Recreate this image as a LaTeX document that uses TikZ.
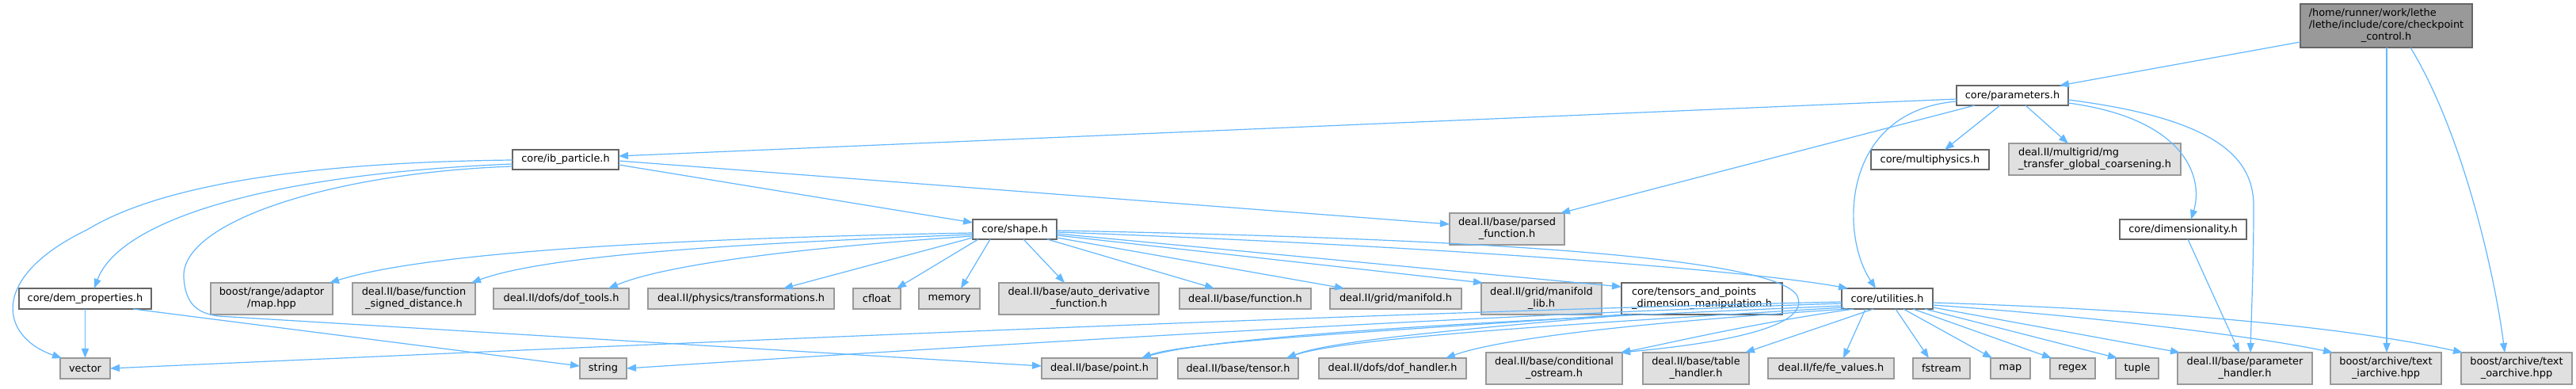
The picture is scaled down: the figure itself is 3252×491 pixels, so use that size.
\documentclass[tikz,border=0pt]{standalone}
\usepackage{fontspec}
\setmainfont{DejaVu Sans}
\usetikzlibrary{arrows.meta,calc}
\definecolor{edgec}{HTML}{63B8FF}
\definecolor{gfill}{HTML}{E0E0E0}
\definecolor{gdraw}{HTML}{999999}
\definecolor{wdraw}{HTML}{666666}
\definecolor{rfill}{HTML}{999999}
\newcommand\twol[2]{\begin{tabular}{@{}l@{}}#1\\\multicolumn{1}{@{}c@{}}{#2}\end{tabular}}
\newcommand\bx[7]{\node[#1, minimum width={(#5-#3)*0.5pt}, minimum height={(#6-#4)*0.5pt}] (#2) at ({(#3+#5)/2},{(#4+#6)/2}) {#7};}
\tikzset{
 nbase/.style={rectangle, inner sep=0pt, outer sep=0pt, line width=0.7pt, font=\fontsize{6.45}{7.5}\selectfont, text=black},
 wbox/.style={nbase, draw=wdraw, fill=white},
 gbox/.style={nbase, draw=gdraw, fill=gfill},
 rbox/.style={nbase, draw=wdraw, fill=rfill},
 inc/.style={draw=edgec, line width=0.6pt, -{Triangle[length=6pt,width=4.5pt]}},
}
\begin{document}
\begin{tikzpicture}[x=0.5pt,y=-0.5pt]
\useasboundingbox[fill=white] (0,0) rectangle (3252,491);
% nodes
\bx{rbox}{root}{2904}{5}{3121}{60}{\begin{tabular}{@{}l@{}}/home/runner/work/lethe\\/lethe/include/core/checkpoint\\\multicolumn{1}{@{}c@{}}{\_control.h}\end{tabular}}
\bx{wbox}{par}{2470}{108}{2611}{133}{core/parameters.h}
\bx{wbox}{mph}{2362}{189}{2511}{214}{core/multiphysics.h}
\bx{gbox}{mg}{2536}{181}{2753}{221}{\twol{deal.II/multigrid/mg}{\_transfer\_global\_coarsening.h}}
\bx{wbox}{ib}{647}{189}{781}{214}{core/ib\_particle.h}
\bx{wbox}{dem}{24}{364}{191}{390}{core/dem\_properties.h}
\bx{gbox}{vec}{76}{452}{139}{478}{vector}
\bx{gbox}{bmap}{266}{357}{420}{397}{\twol{boost/range/adaptor}{/map.hpp}}
\bx{gbox}{fsd}{445}{357}{600}{397}{\twol{deal.II/base/function}{\_signed\_distance.h}}
\bx{gbox}{doft}{623}{364}{794}{390}{deal.II/dofs/dof\_tools.h}
\bx{gbox}{trf}{818}{364}{1053}{390}{deal.II/physics/transformations.h}
\bx{gbox}{cfl}{1077}{364}{1137}{390}{cfloat}
\bx{gbox}{mem}{1160}{364}{1237}{390}{memory}
\bx{wbox}{shp}{1228}{277}{1334}{302}{core/shape.h}
\bx{gbox}{adf}{1261}{357}{1463}{397}{\twol{deal.II/base/auto\_derivative}{\_function.h}}
\bx{gbox}{fun}{1489}{364}{1655}{390}{deal.II/base/function.h}
\bx{gbox}{mfd}{1679}{364}{1845}{390}{deal.II/grid/manifold.h}
\bx{gbox}{mfl}{1870}{357}{2022}{397}{\twol{deal.II/grid/manifold}{\_lib.h}}
\bx{gbox}{pfn}{1830}{269}{1975}{309}{\twol{deal.II/base/parsed}{\_function.h}}
\bx{wbox}{tdm}{2047}{357}{2250}{397}{\twol{core/tensors\_and\_points}{\_dimension\_manipulation.h}}
\bx{wbox}{utl}{2325}{364}{2440}{390}{core/utilities.h}
\bx{wbox}{dim}{2676}{277}{2836}{302}{core/dimensionality.h}
\bx{gbox}{pnt}{1315}{452}{1461}{478}{deal.II/base/point.h}
\bx{gbox}{tsr}{1487}{452}{1639}{478}{deal.II/base/tensor.h}
\bx{gbox}{dofh}{1665}{452}{1851}{478}{deal.II/dofs/dof\_handler.h}
\bx{gbox}{cos}{1876}{445}{2048}{485}{\twol{deal.II/base/conditional}{\_ostream.h}}
\bx{gbox}{tbh}{2074}{445}{2208}{485}{\twol{deal.II/base/table}{\_handler.h}}
\bx{gbox}{fev}{2232}{452}{2391}{478}{deal.II/fe/fe\_values.h}
\bx{gbox}{fst}{2415}{452}{2487}{478}{fstream}
\bx{gbox}{map}{2513}{452}{2563}{478}{map}
\bx{gbox}{rgx}{2588}{452}{2645}{478}{regex}
\bx{gbox}{tpl}{2671}{452}{2725}{478}{tuple}
\bx{gbox}{prh}{2749}{445}{2919}{485}{\twol{deal.II/base/parameter}{\_handler.h}}
\bx{gbox}{tia}{2942}{445}{3082}{485}{\twol{boost/archive/text}{\_iarchive.hpp}}
\bx{gbox}{toa}{3107}{445}{3247}{485}{\twol{boost/archive/text}{\_oarchive.hpp}}
\bx{gbox}{str}{732}{452}{791}{478}{string}
% edges from root
\draw[inc] ($(root.north west)+(0,48)$) -- ($(par.north west)+(130,0)$);
\draw[inc] ($(root.north west)+(109,55)$) -- ($(tia.north west)+(71,0)$);
\draw[inc] ($(root.north west)+(139,55)$) .. controls (3110,170) and (3150,350) .. ($(toa.north west)+(55,0)$);
% edges from parameters
\draw[inc] ($(par.north west)+(0,17)$) -- ($(ib.north west)+(134,8)$);
\draw[inc] ($(par.north west)+(23,25)$) -- ($(pfn.north west)+(140,0)$);
\draw[inc] ($(par.north west)+(55,25)$) -- ($(mph.north west)+(93,0)$);
\draw[inc] ($(par.north west)+(87,25)$) -- ($(mg.north west)+(75,0)$);
\draw[inc] ($(par.north west)+(0,20)$) .. controls (2325,140) and (2322,295) .. ($(utl.north west)+(43,0)$);
\draw[inc] ($(par.north west)+(141,22)$) .. controls (2760,150) and (2782,225) .. ($(dim.north west)+(90,0)$);
\draw[inc] ($(par.north west)+(141,18)$) .. controls (2800,150) and (2845,200) .. (2845,260) .. controls (2845,340) and (2842,400) .. ($(prh.north west)+(92,0)$);
% edges from ib_particle
\draw[inc] ($(ib.north west)+(134,19)$) -- ($(shp.north west)+(0,4)$);
\draw[inc] ($(ib.north west)+(134,14)$) -- ($(pfn.north west)+(0,14)$);
\draw[inc] ($(ib.north west)+(0,18)$) .. controls (330,220) and (150,280) .. ($(dem.north west)+(95,0)$);
\draw[inc] ($(ib.north west)+(0,13)$) .. controls (380,205) and (200,235) .. (110,290) .. controls (-15,350) and (0,425) .. ($(vec.north west)+(2,0)$);
\draw[inc] ($(ib.north west)+(0,21)$) .. controls (420,218) and (228,280) .. (232,350) .. controls (234,385) and (250,395) .. (275,399) -- ($(pnt.north west)+(0,10)$);
% edges from dem_properties
\draw[inc] (dem.south) -- (vec.north);
\draw[inc] ($(dem.north west)+(144,26)$) -- ($(str.north west)+(0,10)$);
% edges from shape
\draw[inc] ($(shp.north west)+(0,17)$) .. controls (900,300) and (550,315) .. ($(bmap.north west)+(150,0)$);
\draw[inc] ($(shp.north west)+(0,19)$) .. controls (1000,305) and (700,318) .. ($(fsd.north west)+(150,0)$);
\draw[inc] ($(shp.north west)+(0,21)$) .. controls (1050,310) and (850,330) .. ($(doft.north west)+(145,0)$);
\draw[inc] ($(shp.north west)+(0,23)$) -- ($(trf.north west)+(171,0)$);
\draw[inc] ($(shp.north west)+(7,25)$) -- ($(cfl.north west)+(55,0)$);
\draw[inc] ($(shp.north west)+(22,25)$) -- ($(mem.north west)+(53,0)$);
\draw[inc] ($(shp.north west)+(64,25)$) -- ($(adf.north west)+(83,0)$);
\draw[inc] ($(shp.north west)+(94,25)$) -- ($(fun.north west)+(44,0)$);
\draw[inc] ($(shp.north west)+(106,23)$) -- ($(mfd.north west)+(18,0)$);
\draw[inc] ($(shp.north west)+(106,20)$) -- ($(mfl.north west)+(2,0)$);
\draw[inc] ($(shp.north west)+(106,18)$) -- ($(tdm.north west)+(0,5)$);
\draw[inc] ($(shp.north west)+(106,16)$) .. controls (1800,310) and (2200,340) .. ($(utl.north west)+(8,0)$);
\draw[inc] ($(shp.north west)+(106,14)$) .. controls (1800,300) and (2230,320) .. (2268,372) .. controls (2295,420) and (2120,438) .. ($(cos.north west)+(170,0)$);
% edges from tensors_and_points
\draw[inc] ($(tdm.north west)+(3,40)$) .. controls (1800,415) and (1500,430) .. ($(pnt.north west)+(126,0)$);
\draw[inc] ($(tdm.north west)+(13,40)$) .. controls (1850,415) and (1680,430) .. ($(tsr.north west)+(137,0)$);
% edges from utilities
\draw[inc] ($(utl.north west)+(0,22)$) .. controls (2000,400) and (1550,420) .. ($(pnt.north west)+(126,0)$);
\draw[inc] ($(utl.north west)+(3,24)$) .. controls (2050,405) and (1700,425) .. ($(tsr.north west)+(137,0)$);
\draw[inc] ($(utl.north west)+(7,26)$) .. controls (2100,405) and (1900,425) .. ($(dofh.north west)+(160,0)$);
\draw[inc] ($(utl.north west)+(15,26)$) .. controls (2200,410) and (2100,435) .. ($(cos.north west)+(170,0)$);
\draw[inc] ($(utl.north west)+(40,26)$) -- ($(tbh.north west)+(129,0)$);
\draw[inc] ($(utl.north west)+(0,17)$) .. controls (1700,395) and (700,440) .. (vec.east);
\draw[inc] ($(utl.north west)+(0,19)$) .. controls (1800,400) and (1100,445) .. (str.east);
\draw[inc] ($(utl.north west)+(30,26)$) -- ($(fev.north west)+(95,0)$);
\draw[inc] ($(utl.north west)+(68,26)$) -- ($(fst.north west)+(20,0)$);
\draw[inc] ($(utl.north west)+(78,26)$) -- ($(map.north west)+(2,0)$);
\draw[inc] ($(utl.north west)+(90,26)$) -- ($(rgx.north west)+(2,0)$);
\draw[inc] ($(utl.north west)+(105,26)$) -- ($(tpl.north west)+(2,0)$);
\draw[inc] ($(utl.north west)+(115,24)$) -- ($(prh.north west)+(3,0)$);
\draw[inc] ($(utl.north west)+(115,21)$) .. controls (2650,400) and (2850,425) .. ($(tia.north west)+(3,0)$);
\draw[inc] ($(utl.north west)+(115,18)$) .. controls (2700,390) and (2950,410) .. ($(toa.north west)+(2,0)$);
% edge from dimensionality
\draw[inc] ($(dim.north west)+(86,25)$) -- ($(prh.north west)+(78,0)$);
\end{tikzpicture}
\end{document}
